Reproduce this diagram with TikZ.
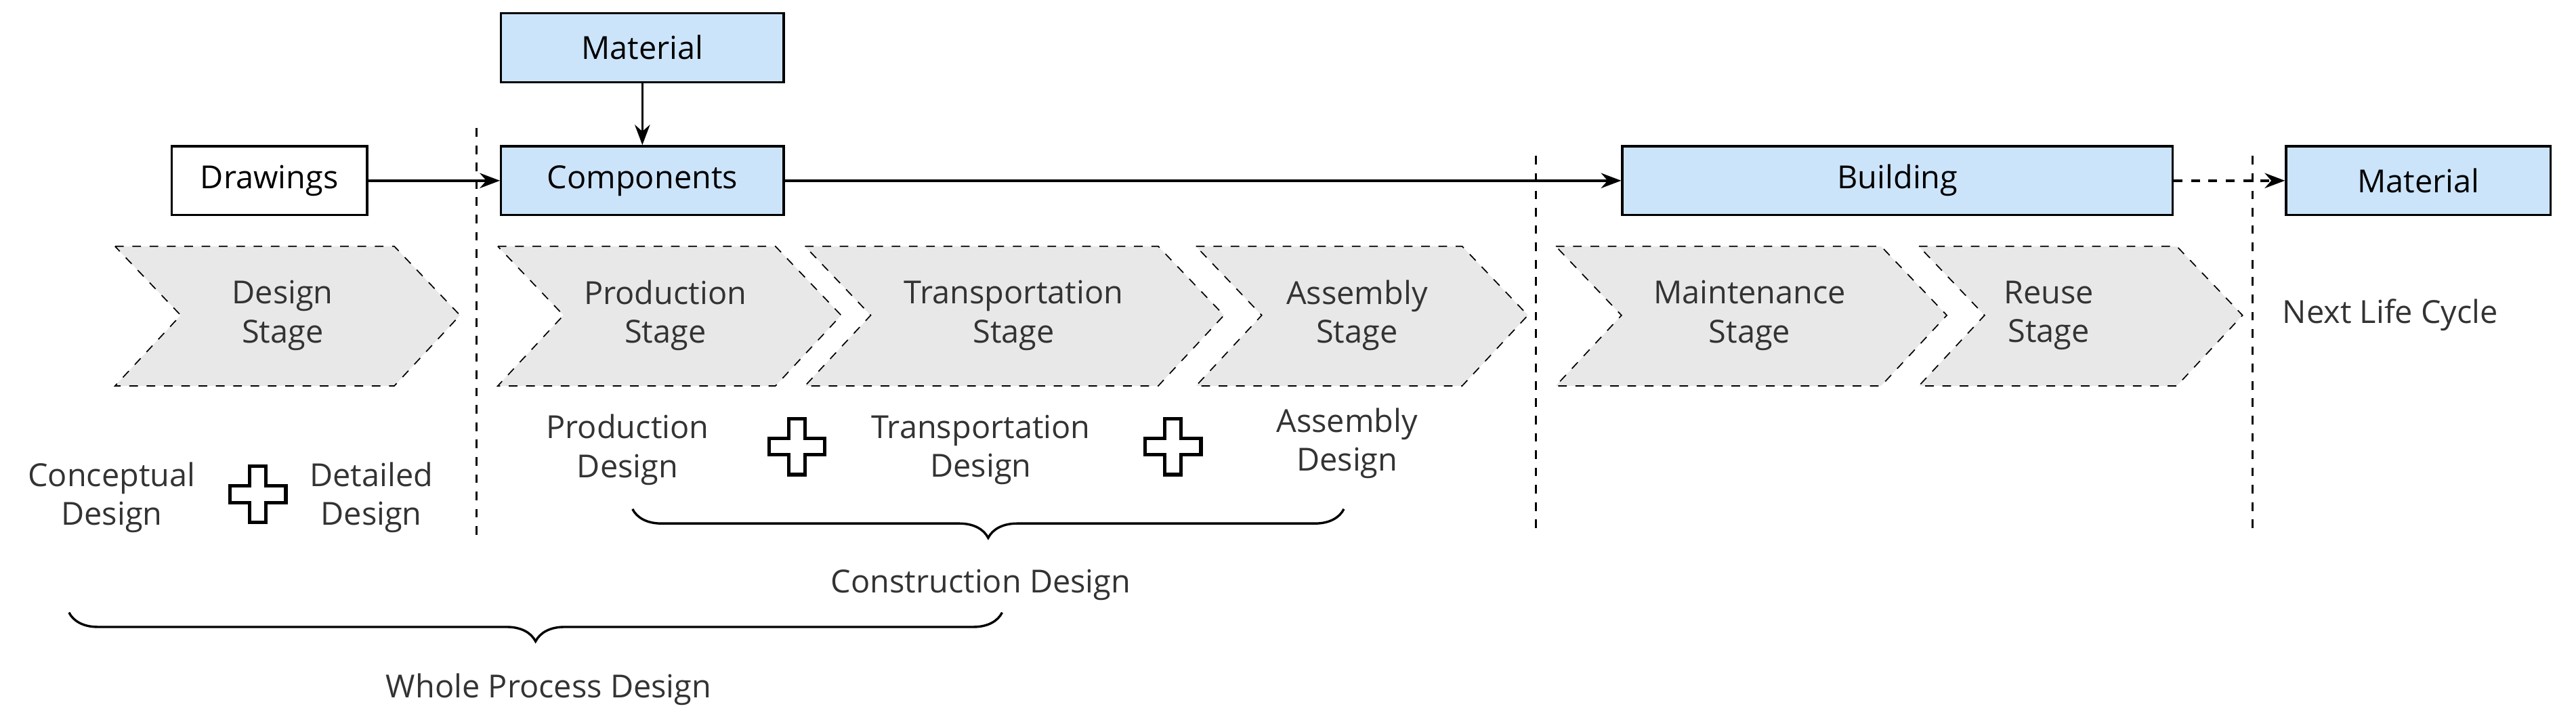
\documentclass[tikz,border=0pt]{standalone}
\usepackage{fontspec}
\setmainfont{Open Sans}
\usetikzlibrary{decorations.pathreplacing,arrows.meta}
\definecolor{boxblue}{RGB}{204,228,250}
\definecolor{chev}{RGB}{232,232,232}
\begin{document}
\begin{tikzpicture}[x=0.02cm,y=-0.02cm,
  font=\fontsize{11}{13.5}\selectfont,
  box/.style={draw,thick,fill=boxblue,minimum height=0.84cm,inner sep=0pt},
  lbl/.style={align=center,text=black!80},
  chv/.style={draw,dashed,fill=chev},
  vd/.style={dashed,thick},
  arr/.style={-{Stealth[length=7pt]},thick}]
\useasboundingbox (0,0) rectangle (1568,436.6);
\newcommand\chevron[2]{\path[chv] (#1,150)--(#2-40,150)--(#2,192)--(#2-40,235)--(#1,235)--(#1+40,192)--cycle;}
\newcommand\plus[2]{\draw[very thick,fill=white,shift={(#1,#2)}] (-5,-17)--(5,-17)--(5,-5)--(17,-5)--(17,5)--(5,5)--(5,17)--(-5,17)--(-5,5)--(-17,5)--(-17,-5)--(-5,-5)--cycle;}
% boxes
\node[box,minimum width=3.44cm] (mat1) at (391,29) {Material};
\node[draw,thick,fill=white,minimum width=2.38cm,minimum height=0.84cm,inner sep=0pt] (draw) at (164,110) {Drawings};
\node[box,minimum width=3.44cm] (comp) at (391,110) {Components};
\node[box,minimum width=6.7cm] (bld) at (1155,110) {Building};
\node[box,minimum width=3.22cm] (mat2) at (1472,110) {Material};
\draw[arr] (mat1) -- (comp);
\draw[arr] (draw) -- (comp);
\draw[arr] (comp) -- (bld);
\draw[arr,dashed] (bld) -- (mat2);
% dashed lines
\coordinate (v1a) at (290,78); \coordinate (v1b) at (290,330);
\coordinate (v2a) at (935,95); \coordinate (v2b) at (935,325);
\coordinate (v3a) at (1371,95); \coordinate (v3b) at (1371,325);
\draw[vd] (v1a)--(v1b); \draw[vd] (v2a)--(v2b); \draw[vd] (v3a)--(v3b);
% chevrons
\chevron{70}{280}\chevron{303}{512}\chevron{490}{745}\chevron{728}{930}\chevron{947}{1185}\chevron{1168}{1365}
\node[lbl] (s1) at (172,192) {Design\\Stage};
\node[lbl] (s2) at (405,192) {Production\\Stage};
\node[lbl] (s3) at (617,192) {Transportation\\Stage};
\node[lbl] (s4) at (826,192) {Assembly\\Stage};
\node[lbl] (s5) at (1065,192) {Maintenance\\Stage};
\node[lbl] (s6) at (1247,192) {Reuse\\Stage};
\node[lbl] (nlc) at (1455,192) {Next Life Cycle};
% design texts
\node[lbl] (cd) at (68,303) {Conceptual\\Design};
\plus{157}{301}
\node[lbl] (dd) at (226,303) {Detailed\\Design};
\node[lbl] (pd) at (382,274) {Production\\Design};
\plus{485}{272}
\node[lbl] (td) at (597,274) {Transportation\\Design};
\plus{714}{272}
\node[lbl] (ad) at (820,270) {Assembly\\Design};
% braces
\coordinate (b1a) at (385,310); \coordinate (b1b) at (818,310);
\draw[thick,decorate,decoration={brace,mirror,amplitude=10pt}] (b1a)--(b1b);
\node[lbl] (cons) at (597,356) {Construction Design};
\coordinate (b2a) at (42,373); \coordinate (b2b) at (610,373);
\draw[thick,decorate,decoration={brace,mirror,amplitude=10pt}] (b2a)--(b2b);
\node[lbl] (whole) at (334,420) {Whole Process Design};
\end{tikzpicture}
\end{document}
